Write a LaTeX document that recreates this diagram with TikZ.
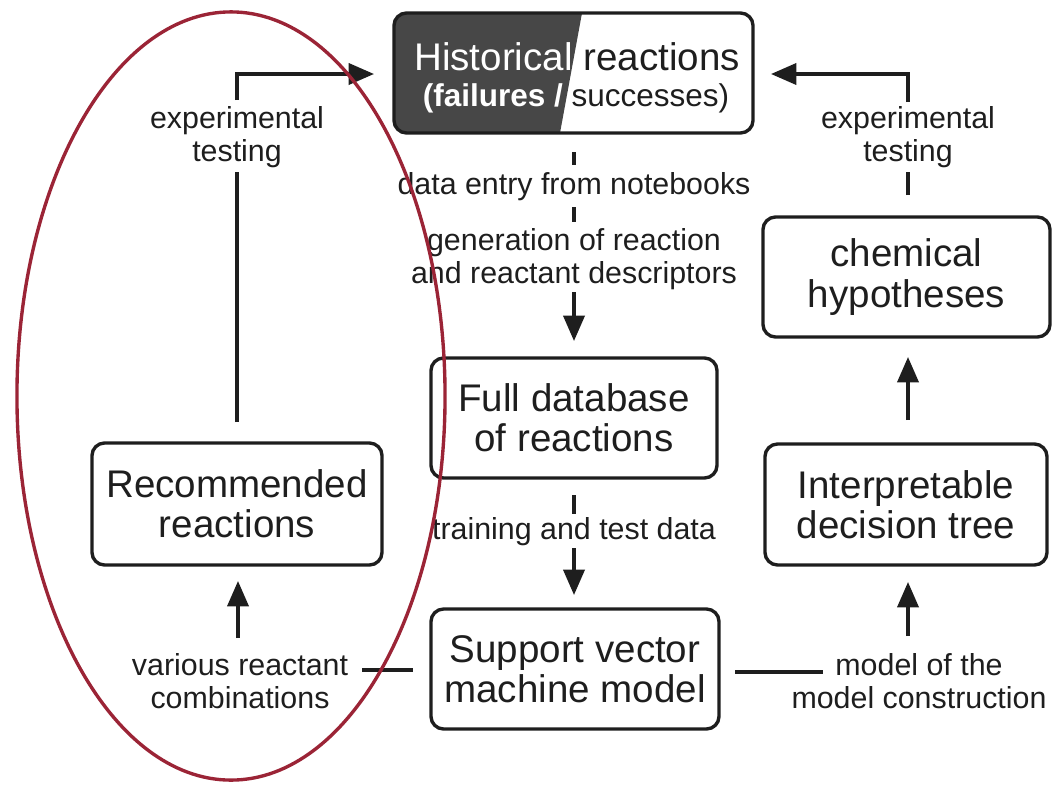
\documentclass[tikz,border=0pt]{standalone}
\usepackage{fontspec}
\setmainfont{Liberation Sans}
\usetikzlibrary{arrows.meta}
\definecolor{ink}{HTML}{1E1E1E}
\definecolor{darkpart}{HTML}{474747}
\definecolor{ring}{HTML}{9B2436}
\begin{document}
\begin{tikzpicture}[x=0.025cm,y=-0.025cm,
  box/.style={draw=ink, line width=2.4pt, rounded corners=9pt, align=center, text=ink,
    font=\fontsize{27.4pt}{28.5pt}\selectfont, inner sep=0pt},
  lbl/.style={align=center, text=ink, font=\fontsize{21.6pt}{23.5pt}\selectfont, inner sep=0pt},
  conn/.style={draw=ink, line width=2.4pt},
  arr/.style={conn, -{Triangle[length=18pt,width=15pt]}}]
\useasboundingbox (0,0) rectangle (1052,784);

% Historical box with dark part
\begin{scope}
  \clip[rounded corners=9pt] (394,13) rectangle (753,133);
  \fill[darkpart] (394,13) -- (582,13) -- (560,133) -- (394,133) -- cycle;
\end{scope}
\node[box, minimum width=8.975cm, minimum height=3cm] (hist) at (573.5,73) {};
\node[lbl, font=\fontsize{27.4pt}{28.5pt}\selectfont] (h1) at (577,57) {\textcolor{white}{Historical} reactions};
\node[lbl, font=\fontsize{22.4pt}{28pt}\selectfont] (h2) at (576,98) {\textcolor{white}{\bfseries(failures /} successes)};

% boxes
\node[box, minimum width=7.15cm, minimum height=3cm] (fulldb) at (574,418) {Full database\\of reactions};
\node[box, minimum width=7.2cm, minimum height=3cm] (svm) at (575,669) {Support vector\\machine model};
\node[box, minimum width=7.25cm, minimum height=3.05cm] (rec) at (237,504) {Recommended\\reactions};
\node[box, minimum width=7.05cm, minimum height=3.025cm] (interp) at (906,504.5) {Interpretable\\decision tree};
\node[box, minimum width=7.175cm, minimum height=3cm] (chem) at (906.5,277) {chemical\\hypotheses};

% labels
\node[lbl] (lblL) at (237,137) {experimental\\testing};
\node[lbl] (lblR) at (908,137) {experimental\\testing};
\node[lbl] (lblData) at (574,187) {data entry from notebooks};
\node[lbl] (lblGen) at (574,259) {generation of reaction\\and reactant descriptors};
\node[lbl] (lblTrain) at (574,532) {training and test data};
\node[lbl] (lblVar) at (240,681) {various reactant\\combinations};
\node[lbl] (lblMod) at (919,681) {model of the\\model construction};

% connector ends
\coordinate (a1) at (237,422); \coordinate (a2) at (237,172);
\coordinate (a3) at (237,100); \coordinate (a4) at (374,74);
\coordinate (b1) at (908,195); \coordinate (b2) at (908,172);
\coordinate (b3) at (908,102); \coordinate (b4) at (771,74);
\coordinate (c1) at (574,152); \coordinate (c2) at (574,165);
\coordinate (c3) at (574,207); \coordinate (c4) at (574,222);
\coordinate (c5) at (574,292); \coordinate (c6) at (574,341);
\coordinate (d1) at (574,495); \coordinate (d2) at (574,514);
\coordinate (d3) at (574,548); \coordinate (d4) at (574,595);
\coordinate (e1) at (908,420); \coordinate (e2) at (908,357);
\coordinate (e3) at (908,636); \coordinate (e4) at (908,582);
\coordinate (f1) at (735,672); \coordinate (f2) at (823,672);
\coordinate (g1) at (238,638); \coordinate (g2) at (238,581);
\coordinate (g3) at (362,670); \coordinate (g4) at (413,670);

% connectors
\draw[conn] (a1) -- (a2);
\draw[arr] (a3) |- (a4);
\draw[conn] (b1) -- (b2);
\draw[arr] (b3) |- (b4);
\draw[conn] (c1) -- (c2);
\draw[conn] (c3) -- (c4);
\draw[arr] (c5) -- (c6);
\draw[conn] (d1) -- (d2);
\draw[arr] (d3) -- (d4);
\draw[arr] (e1) -- (e2);
\draw[arr] (e3) -- (e4);
\draw[conn] (f1) -- (f2);
\draw[arr] (g1) -- (g2);
\draw[conn] (g3) -- (g4);

% highlight ellipse
\draw[ring, line width=2.4pt] (231,396) ellipse [x radius=5.35cm, y radius=9.6cm];
\end{tikzpicture}
\end{document}
